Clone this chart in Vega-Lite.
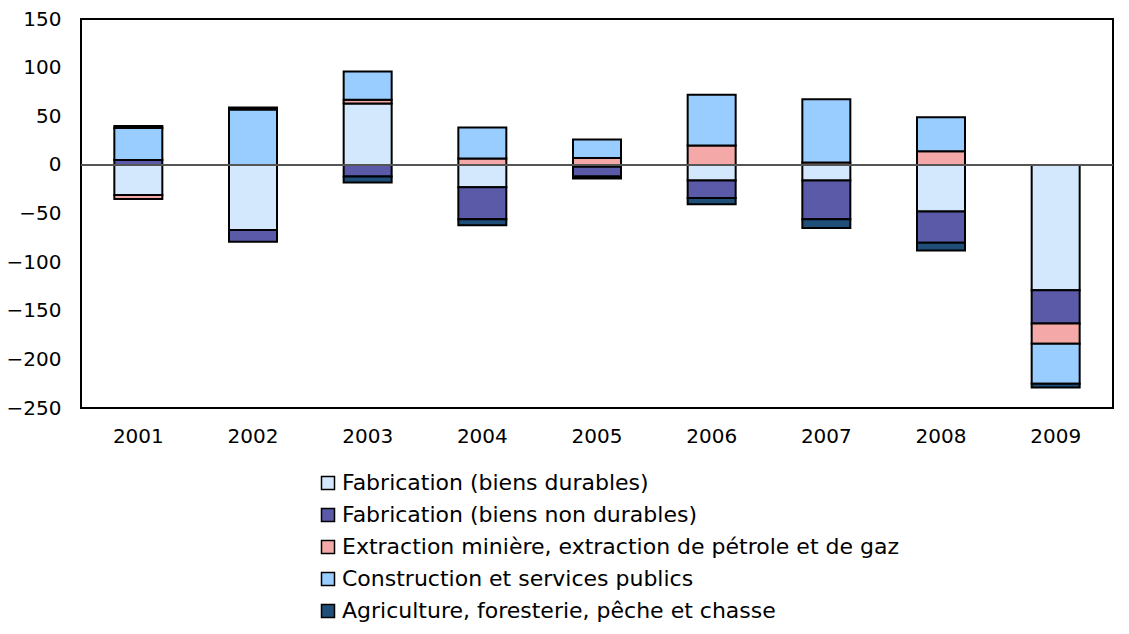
{
  "$schema": "https://vega.github.io/schema/vega-lite/v6.json",
  "width": 1032,
  "height": 389,
  "autosize": {"type": "none"},
  "padding": {"left": 81, "top": 19, "right": 16, "bottom": 226},
  "background": "white",
  "config": {
    "view": {"stroke": "black", "strokeWidth": 2},
    "font": "DejaVu Sans"
  },
  "data": {
    "values": [
      {"year": "2001", "series": "Fabrication (biens durables)", "o": 1, "v": -31},
      {"year": "2001", "series": "Fabrication (biens non durables)", "o": 2, "v": 5},
      {"year": "2001", "series": "Extraction minière, extraction de pétrole et de gaz", "o": 3, "v": -4},
      {"year": "2001", "series": "Construction et services publics", "o": 4, "v": 33},
      {"year": "2001", "series": "Agriculture, foresterie, pêche et chasse", "o": 5, "v": 2},
      {"year": "2002", "series": "Fabrication (biens durables)", "o": 1, "v": -67},
      {"year": "2002", "series": "Fabrication (biens non durables)", "o": 2, "v": -12},
      {"year": "2002", "series": "Extraction minière, extraction de pétrole et de gaz", "o": 3, "v": 0},
      {"year": "2002", "series": "Construction et services publics", "o": 4, "v": 57},
      {"year": "2002", "series": "Agriculture, foresterie, pêche et chasse", "o": 5, "v": 2},
      {"year": "2003", "series": "Fabrication (biens durables)", "o": 1, "v": 63},
      {"year": "2003", "series": "Fabrication (biens non durables)", "o": 2, "v": -12},
      {"year": "2003", "series": "Extraction minière, extraction de pétrole et de gaz", "o": 3, "v": 4},
      {"year": "2003", "series": "Construction et services publics", "o": 4, "v": 29},
      {"year": "2003", "series": "Agriculture, foresterie, pêche et chasse", "o": 5, "v": -6},
      {"year": "2004", "series": "Fabrication (biens durables)", "o": 1, "v": -23},
      {"year": "2004", "series": "Fabrication (biens non durables)", "o": 2, "v": -33},
      {"year": "2004", "series": "Extraction minière, extraction de pétrole et de gaz", "o": 3, "v": 6.5},
      {"year": "2004", "series": "Construction et services publics", "o": 4, "v": 32},
      {"year": "2004", "series": "Agriculture, foresterie, pêche et chasse", "o": 5, "v": -6},
      {"year": "2005", "series": "Fabrication (biens durables)", "o": 1, "v": -2},
      {"year": "2005", "series": "Fabrication (biens non durables)", "o": 2, "v": -10},
      {"year": "2005", "series": "Extraction minière, extraction de pétrole et de gaz", "o": 3, "v": 7},
      {"year": "2005", "series": "Construction et services publics", "o": 4, "v": 19},
      {"year": "2005", "series": "Agriculture, foresterie, pêche et chasse", "o": 5, "v": -2},
      {"year": "2006", "series": "Fabrication (biens durables)", "o": 1, "v": -16},
      {"year": "2006", "series": "Fabrication (biens non durables)", "o": 2, "v": -18},
      {"year": "2006", "series": "Extraction minière, extraction de pétrole et de gaz", "o": 3, "v": 20},
      {"year": "2006", "series": "Construction et services publics", "o": 4, "v": 52},
      {"year": "2006", "series": "Agriculture, foresterie, pêche et chasse", "o": 5, "v": -6.5},
      {"year": "2007", "series": "Fabrication (biens durables)", "o": 1, "v": -16},
      {"year": "2007", "series": "Fabrication (biens non durables)", "o": 2, "v": -40},
      {"year": "2007", "series": "Extraction minière, extraction de pétrole et de gaz", "o": 3, "v": 2.5},
      {"year": "2007", "series": "Construction et services publics", "o": 4, "v": 65},
      {"year": "2007", "series": "Agriculture, foresterie, pêche et chasse", "o": 5, "v": -9},
      {"year": "2008", "series": "Fabrication (biens durables)", "o": 1, "v": -48},
      {"year": "2008", "series": "Fabrication (biens non durables)", "o": 2, "v": -32},
      {"year": "2008", "series": "Extraction minière, extraction de pétrole et de gaz", "o": 3, "v": 14},
      {"year": "2008", "series": "Construction et services publics", "o": 4, "v": 35},
      {"year": "2008", "series": "Agriculture, foresterie, pêche et chasse", "o": 5, "v": -8},
      {"year": "2009", "series": "Fabrication (biens durables)", "o": 1, "v": -129},
      {"year": "2009", "series": "Fabrication (biens non durables)", "o": 2, "v": -34},
      {"year": "2009", "series": "Extraction minière, extraction de pétrole et de gaz", "o": 3, "v": -21},
      {"year": "2009", "series": "Construction et services publics", "o": 4, "v": -41},
      {"year": "2009", "series": "Agriculture, foresterie, pêche et chasse", "o": 5, "v": -4}
    ]
  },
  "layer": [
    {
      "mark": {"type": "bar", "stroke": "black", "strokeWidth": 2, "width": 48},
      "encoding": {
        "x": {
          "field": "year", "type": "nominal", "sort": null,
          "scale": {"paddingInner": 0.58, "paddingOuter": 0.29},
          "axis": {"title": null, "labelAngle": 0, "domain": false, "ticks": false, "labelFontSize": 20, "labelColor": "black", "labelPadding": 18, "labelFont": "DejaVu Sans"}
        },
        "y": {
          "field": "v", "type": "quantitative", "stack": "zero",
          "scale": {"domain": [-250, 150], "nice": false},
          "axis": {"title": null, "values": [-250, -200, -150, -100, -50, 0, 50, 100, 150], "grid": false, "domain": false, "ticks": false, "labelFontSize": 20, "labelColor": "black", "labelPadding": 20, "labelFont": "DejaVu Sans"}
        },
        "color": {
          "field": "series", "type": "nominal",
          "scale": {
            "domain": ["Fabrication (biens durables)", "Fabrication (biens non durables)", "Extraction minière, extraction de pétrole et de gaz", "Construction et services publics", "Agriculture, foresterie, pêche et chasse"],
            "range": ["#d3e8fc", "#5a5aa8", "#f5a8a8", "#99ccff", "#1f4e79"]
          },
          "legend": {
            "title": null, "orient": "none", "legendX": 236, "legendY": 453,
            "direction": "vertical", "symbolType": "square", "symbolSize": 169,
            "symbolStrokeColor": "black", "symbolStrokeWidth": 1.5,
            "labelFontSize": 22, "labelColor": "black", "labelFont": "DejaVu Sans",
            "labelOffset": 3, "rowPadding": 10, "labelLimit": 800
          }
        },
        "order": {"field": "o", "type": "quantitative"}
      }
    },
    {
      "data": {"values": [{"z": 0}]},
      "mark": {"type": "rule", "color": "#555555", "strokeWidth": 2},
      "encoding": {"y": {"field": "z", "type": "quantitative"}}
    }
  ]
}
